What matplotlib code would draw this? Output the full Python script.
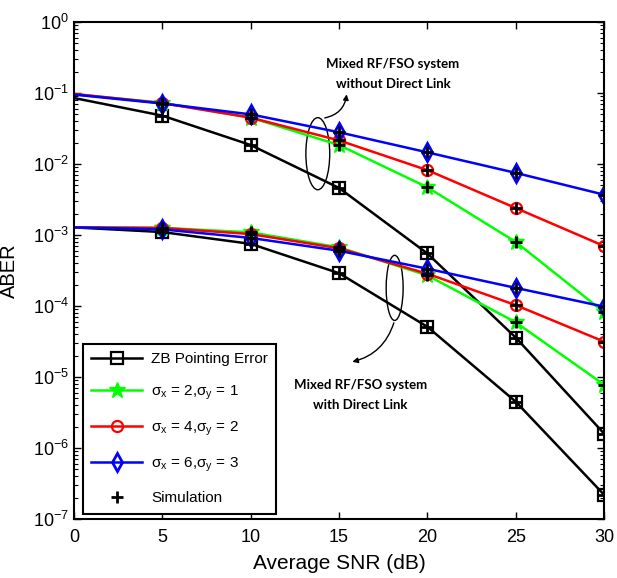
import numpy as np
import matplotlib
matplotlib.use("Agg")
import matplotlib.pyplot as plt
from matplotlib.patches import Ellipse

plt.rcParams['font.family'] = ['Liberation Sans', 'DejaVu Sans']
plt.rcParams['mathtext.fontset'] = 'custom'
plt.rcParams['mathtext.rm'] = 'Liberation Sans'
plt.rcParams['mathtext.it'] = 'Liberation Sans'
plt.rcParams['mathtext.bf'] = 'Liberation Sans:bold'

snr = [0, 5, 10, 15, 20, 25, 30]

# Without direct link
zb_nodl = [8.5e-2, 4.8e-2, 1.85e-2, 4.6e-3, 5.5e-4, 3.6e-5, 1.6e-6]
s21_nodl = [9.6e-2, 7.3e-2, 4.5e-2, 1.85e-2, 4.7e-3, 8.0e-4, 8.2e-5]
s42_nodl = [9.7e-2, 7.2e-2, 4.5e-2, 2.15e-2, 8.2e-3, 2.4e-3, 7.0e-4]
s63_nodl = [9.5e-2, 7.1e-2, 5.0e-2, 2.8e-2, 1.46e-2, 7.5e-3, 3.7e-3]

# With direct link
zb_dl = [1.28e-3, 1.1e-3, 7.5e-4, 2.9e-4, 5.1e-5, 4.5e-6, 2.2e-7]
s21_dl = [1.28e-3, 1.26e-3, 1.09e-3, 6.7e-4, 2.7e-4, 5.9e-5, 7.8e-6]
s42_dl = [1.28e-3, 1.26e-3, 1.03e-3, 6.5e-4, 2.85e-4, 1.03e-4, 3.15e-5]
s63_dl = [1.28e-3, 1.2e-3, 9.1e-4, 6.0e-4, 3.35e-4, 1.8e-4, 9.8e-5]

sim_x = [5, 10, 15, 20, 25, 30]
x_ticks = [0, 5, 10, 15, 20, 25, 30]
y_exps = [0, -1, -2, -3, -4, -5, -6, -7]

fig = plt.figure(figsize=(6.17, 5.78), dpi=100)
ax = fig.add_axes([74/617, 59/578, 530/617, 497/578])

lw = 1.8
styles = [
    ('k', 's', 'ZB Pointing Error', dict(markersize=8, markerfacecolor='none', markeredgewidth=1.6)),
    ('#00ff00', '*', r'σ$_{\rm x}$ = 2,σ$_{\rm y}$ = 1', dict(markersize=12, markeredgewidth=1.0)),
    ('r', 'o', r'σ$_{\rm x}$ = 4,σ$_{\rm y}$ = 2', dict(markersize=8, markerfacecolor='none', markeredgewidth=1.6)),
    ('b', 'd', r'σ$_{\rm x}$ = 6,σ$_{\rm y}$ = 3', dict(markersize=9, markerfacecolor='none', markeredgewidth=2.0)),
]
groups = [(zb_nodl, zb_dl), (s21_nodl, s21_dl), (s42_nodl, s42_dl), (s63_nodl, s63_dl)]

handles = []
for (c, m, lab, kw), (up, low) in zip(styles, groups):
    h, = ax.plot(snr, up, color=c, marker=m, lw=lw, label=lab, markevery=range(1, 7), **kw)
    ax.plot(snr, low, color=c, marker=m, lw=lw, markevery=range(1, 7), **kw)
    handles.append(h)

for (up, low) in groups:
    ax.plot(sim_x, up[1:], 'k+', markersize=9, markeredgewidth=2.0, zorder=5)
    hs, = ax.plot(sim_x, low[1:], 'k+', markersize=9, markeredgewidth=2.0, zorder=5, label='Simulation')
handles.append(hs)

ax.set_yscale('log')
ax.set_ylim(1e-7, 1)
ax.set_xlim(0, 30)
ax.set_xticks(x_ticks)
ax.set_yticks([10.0 ** e for e in y_exps])
ax.set_yticklabels([r'$10^{%d}$' % e for e in y_exps])
minor = [m * 10.0 ** e for e in y_exps[1:] for m in range(2, 10)]
ax.set_yticks(minor, minor=True)
ax.yaxis.set_minor_formatter(matplotlib.ticker.NullFormatter())
ax.tick_params(which='both', direction='in', top=True, right=True, labelsize=13)
ax.tick_params(axis='x', which='major', pad=7)
ax.tick_params(which='major', length=5, width=1)
ax.tick_params(which='minor', length=3, width=0.8)
for s in ax.spines.values():
    s.set_linewidth(1.5)

ax.set_xlabel('Average SNR (dB)', fontsize=15, labelpad=6)
ax.set_ylabel('ABER', fontsize=14.5)
ax.yaxis.set_label_coords(-0.104, 0.5)

leg = ax.legend(handles=handles, loc='lower left', bbox_to_anchor=(0.017, 0.011), fontsize=11,
                frameon=True, fancybox=False, edgecolor='k', framealpha=1, borderaxespad=0,
                handlelength=3.3, labelspacing=1.15, borderpad=0.55, handletextpad=0.6)
leg.get_frame().set_linewidth(1.5)

# Annotations
ax.add_patch(Ellipse((0.460, 0.735), 0.045, 0.145, transform=ax.transAxes, fill=False, lw=1.0, ec='k'))
ax.add_patch(Ellipse((0.605, 0.465), 0.032, 0.131, transform=ax.transAxes, fill=False, lw=1.0, ec='k'))
ax.annotate('', xy=(0.515, 0.860), xytext=(0.468, 0.806), xycoords='axes fraction',
            arrowprops=dict(arrowstyle='-|>', color='k', lw=1.0, connectionstyle='arc3,rad=0.4',
                            mutation_scale=8))
ax.annotate('', xy=(0.520, 0.315), xytext=(0.605, 0.400), xycoords='axes fraction',
            arrowprops=dict(arrowstyle='-|>', color='k', lw=1.0, connectionstyle='arc3,rad=-0.3',
                            mutation_scale=8))
ax.text(0.602, 0.895, 'Mixed RF/FSO system\nwithout Direct Link', transform=ax.transAxes,
        ha='center', va='center', fontsize=9.5, fontweight='bold', family='Lato', linespacing=1.8)
ax.text(0.540, 0.250, 'Mixed RF/FSO system\nwith Direct Link', transform=ax.transAxes,
        ha='center', va='center', fontsize=9.5, fontweight='bold', family='Lato', linespacing=1.8)

fig.savefig('out.png', dpi=100)
